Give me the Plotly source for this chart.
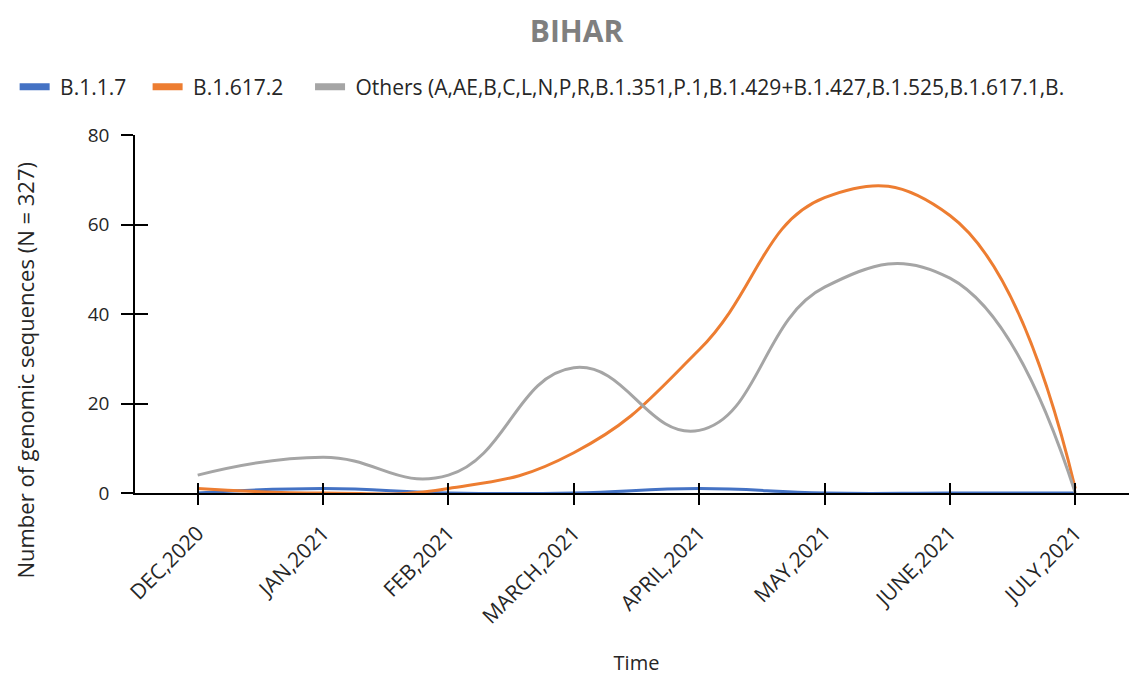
import plotly.graph_objects as go

months = ["DEC,2020", "JAN,2021", "FEB,2021", "MARCH,2021",
          "APRIL,2021", "MAY,2021", "JUNE,2021", "JULY,2021"]

b117 = [0, 1, 0, 0, 1, 0, 0, 0]
b16172 = [1, 0, 1, 9, 32, 66, 62, 1]
others = [4, 8, 4, 28, 14, 46, 48, 0]

series_names = ["B.1.1.7", "B.1.617.2",
                "Others (A,AE,B,C,L,N,P,R,B.1.351,P.1,B.1.429+B.1.427,B.1.525,B.1.617.1,B."]
colors = ["#4472C4", "#ED7D31", "#A5A5A5"]

FONT = "Open Sans"
TXT = "#262626"
NB = "\u00a0"
# leading/trailing spacing to mimic the excel legend layout
lead = [NB, NB, NB]
trail = [NB * 3, NB * 4, ""]

fig = go.Figure()

# the data lines (legend handled by the short bars below)
for vals, col in zip([b117, b16172, others], colors):
    fig.add_trace(go.Scatter(x=months, y=vals, mode="lines", showlegend=False,
                             line=dict(color=col, width=3, shape="spline", smoothing=1.3)))

# legend-only entries with thick short bars
for name, col, a, b in zip(series_names, colors, lead, trail):
    fig.add_trace(go.Scatter(x=[None], y=[None], mode="lines", name=a + name + b,
                             line=dict(color=col, width=7)))

# invisible trace to carry the overlay axes (ticks crossing the axis lines)
fig.add_trace(go.Scatter(x=[None], y=[None], xaxis="x2", yaxis="y2",
                         showlegend=False, hoverinfo="skip"))

fig.update_layout(
    width=1137, height=677,
    paper_bgcolor="white", plot_bgcolor="white",
    margin=dict(l=122, r=7, t=127, b=192),
    font=dict(family=FONT, color=TXT),
    title=dict(text="<b>BIHAR</b>", x=0.5, xanchor="center", y=0.966, yanchor="middle",
               font=dict(size=30, color="#7f7f7f", family=FONT)),
    legend=dict(orientation="h", x=-0.12, xanchor="left", y=1.134, yanchor="middle",
                font=dict(size=21, color=TXT), itemwidth=30,
                bgcolor="rgba(0,0,0,0)"),
    xaxis=dict(
        type="category", range=[-0.5, 7.5], automargin=False,
        showline=True, linecolor="black", linewidth=1.5,
        ticks="outside", ticklen=10, tickcolor="black", tickwidth=1.5,
        showgrid=False, tickangle=-45, tickfont=dict(size=21, color=TXT),
        ticklabelstandoff=8,
        title=dict(text="Time", font=dict(size=20, color=TXT), standoff=28),
    ),
    yaxis=dict(
        range=[0, 80], dtick=20, automargin=False,
        showline=True, linecolor="black", linewidth=1.5,
        ticks="outside", ticklen=12, tickcolor="black", tickwidth=1.5,
        showgrid=False, zeroline=False, tickfont=dict(size=19, color=TXT),
        ticklabelstandoff=8,
    ),
    xaxis2=dict(overlaying="x", anchor="y2", range=[-0.5, 7.5], tick0=0, dtick=1,
                ticks="inside", ticklen=10, tickcolor="black", tickwidth=1.5,
                showticklabels=False, showline=False, showgrid=False, zeroline=False,
                automargin=False),
    yaxis2=dict(overlaying="y", anchor="x2", range=[0, 80], dtick=20,
                ticks="inside", ticklen=13, tickcolor="black", tickwidth=1.5,
                showticklabels=False, showline=False, showgrid=False, zeroline=False,
                automargin=False),
    annotations=[dict(
        text="Number of genomic sequences (N = 327)", textangle=-90,
        xref="paper", x=(11 - 122) / 1008, xanchor="center",
        yref="paper", y=(485 - 362) / 358, yanchor="middle",
        showarrow=False, font=dict(size=22, color=TXT),
    )],
)

fig.write_html("out.html")
